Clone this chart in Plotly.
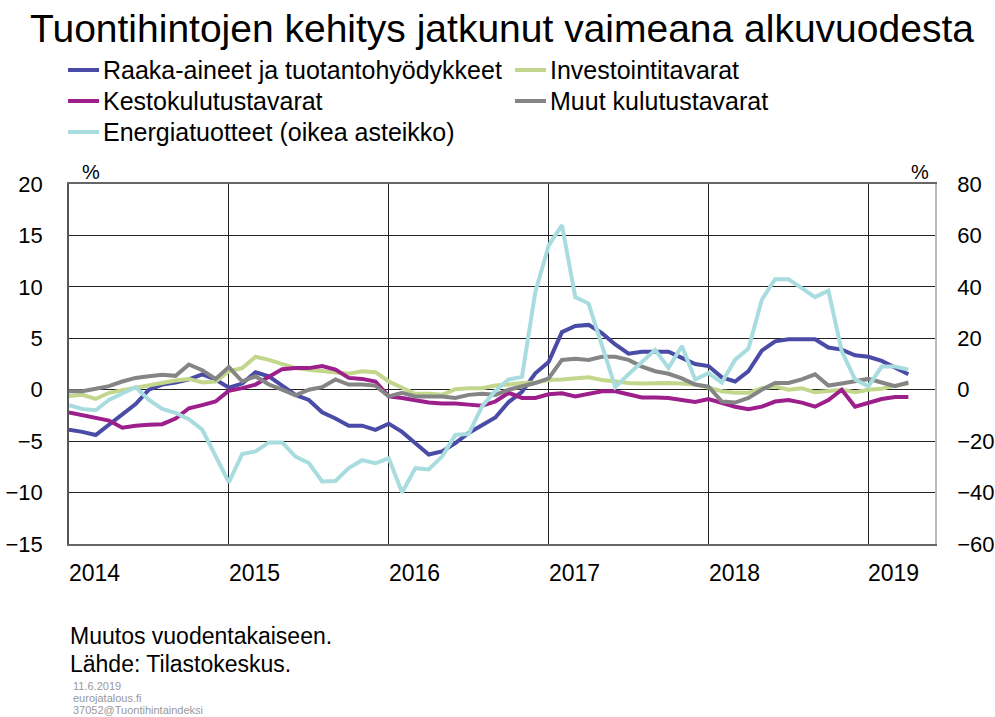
import plotly.graph_objects as go

months = list(range(64))  # Jan 2014 .. Apr 2019, month index
year_ticks = [0, 12, 24, 36, 48, 60]
year_labels = ["2014", "2015", "2016", "2017", "2018", "2019"]

raaka = [-3.9, -4.1, -4.4, -3.4, -2.3, -1.4, 0.0, 0.5, 0.7, 1.0, 1.5, 1.0,
         0.2, 0.6, 1.7, 1.3, 0.4, -0.5, -1.0, -2.2, -2.8, -3.5, -3.5, -3.9,
         -3.3, -4.1, -5.2, -6.3, -6.0, -5.2, -4.2, -3.4, -2.7, -1.2, -0.2, 1.6,
         2.7, 5.6, 6.2, 6.3, 5.5, 4.4, 3.5, 3.7, 3.7, 3.7, 3.1, 2.5,
         2.3, 1.2, 0.8, 1.8, 3.8, 4.7, 4.9, 4.9, 4.9, 4.1, 3.9, 3.35,
         3.2, 2.8, 2.2, 1.5]
investointi = [-0.6, -0.5, -0.9, -0.3, -0.05, 0.2, 0.4, 0.65, 0.9, 1.05, 0.7, 0.8,
               1.8, 2.1, 3.2, 2.9, 2.5, 2.1, 1.95, 1.8, 1.7, 1.55, 1.8, 1.7,
               0.8, 0.25, -0.4, -0.4, -0.5, 0.05, 0.15, 0.15, 0.4, 0.5, 0.65, 0.7,
               0.95, 1.0, 1.1, 1.2, 0.95, 0.8, 0.65, 0.6, 0.65, 0.65, 0.6, 0.5,
               0.2, -0.15, -0.3, -0.3, 0.15, 0.3, 0.0, 0.15, -0.25, -0.15, 0.0, -0.25,
               0.0, 0.1, 0.4, 0.6]
kesto = [-2.2, -2.45, -2.7, -3.0, -3.7, -3.5, -3.4, -3.35, -2.8, -1.8, -1.5, -1.15,
         -0.1, 0.15, 0.5, 1.2, 2.0, 2.1, 2.1, 2.3, 1.95, 1.15, 1.05, 0.8,
         -0.65, -0.8, -1.05, -1.25, -1.35, -1.35, -1.45, -1.55, -1.15, -0.3, -0.8, -0.8,
         -0.45, -0.35, -0.65, -0.4, -0.15, -0.15, -0.5, -0.75, -0.75, -0.8, -1.0, -1.2,
         -0.9, -1.3, -1.65, -1.9, -1.65, -1.15, -1.0, -1.25, -1.65, -1.0, 0.0, -1.65,
         -1.25, -0.9, -0.7, -0.7]
muut = [-0.15, -0.15, 0.1, 0.35, 0.8, 1.15, 1.3, 1.45, 1.35, 2.45, 1.9, 1.05,
        2.2, 0.8, 1.3, 0.5, 0.0, -0.55, 0.0, 0.25, 1.0, 0.5, 0.5, 0.4,
        -0.65, -0.3, -0.65, -0.65, -0.65, -0.8, -0.5, -0.4, -0.5, 0.0, 0.3, 0.65,
        1.1, 2.9, 3.0, 2.9, 3.2, 3.2, 2.9, 2.25, 1.8, 1.55, 1.1, 0.5,
        0.3, -1.15, -1.25, -0.8, 0.0, 0.65, 0.65, 1.0, 1.5, 0.4, 0.6, 0.8,
        1.05, 0.7, 0.35, 0.7]
energia = [-6, -7.5, -8, -4, -1.5, 1.0, -4, -7.5, -9, -11.5, -15.5, -26,
           -36, -25, -24, -20.5, -20.5, -26, -28.5, -35.7, -35.5, -30.5, -27.4, -28.6,
           -26.7, -40, -30.5, -31, -26, -17.6, -17.2, -6.5, -0.5, 4, 5, 38,
           56, 64, 36, 33.5, 17, 1, 6, 11, 15.5, 8.5, 17, 4,
           6.5, 2.8, 11.7, 16, 35, 43, 43, 39.5, 36, 38.5, 15, 4,
           1.3, 9, 9, 7.8]

names = ["Raaka-aineet ja tuotantohyödykkeet", "Investointitavarat",
         "Kestokulutustavarat", "Muut kulutustavarat",
         "Energiatuotteet (oikea asteikko)"]
colors = ["#4a4ba6", "#c2d68c", "#9c1f8c", "#858585", "#a9dcdf"]

fig = go.Figure()
for name, vals, col in zip(names[:4], [raaka, investointi, kesto, muut], colors[:4]):
    fig.add_trace(go.Scatter(x=months, y=vals, name=name, mode="lines",
                             line=dict(color=col, width=4), showlegend=False))
fig.add_trace(go.Scatter(x=months, y=energia, name=names[4], mode="lines",
                         line=dict(color=colors[4], width=4), yaxis="y2",
                         showlegend=False))

sans = "Liberation Sans, Arial, sans-serif"

W, H = 995, 717
PL, PR, PT, PB = 69, 935, 184, 544  # plot area in pixels


def px(xpix):
    return (xpix - PL) / (PR - PL)


def py(ypix):
    return (PB - ypix) / (PB - PT)


fig.update_layout(
    width=W, height=H,
    margin=dict(l=PL, r=W - PR, t=PT, b=H - PB, autoexpand=False),
    paper_bgcolor="white", plot_bgcolor="white",
    title=dict(text="Tuontihintojen kehitys jatkunut vaimeana alkuvuodesta",
               font=dict(family=sans, size=39, color="black"),
               x=0.5, xanchor="center", xref="paper",
               y=1 - 28 / H, yanchor="middle", yref="container"),
    showlegend=False,
    xaxis=dict(range=[0, 65], tickvals=year_ticks, showticklabels=False,
               showgrid=True, gridcolor="#222", gridwidth=1, zeroline=False,
               showline=True, linecolor="#666", linewidth=1.5, mirror=True,
               ticks=""),
    yaxis=dict(range=[-15, 20], dtick=5, tick0=0, showgrid=True, gridcolor="#222",
               gridwidth=1, zeroline=False, showline=True, linecolor="#555",
               linewidth=1.5, ticks="", ticklabelstandoff=20,
               tickfont=dict(family=sans, size=22, color="black")),
    yaxis2=dict(range=[-60, 80], dtick=20, tick0=0, overlaying="y", side="right",
                showgrid=False, zeroline=False, showline=True, linecolor="#bbb",
                linewidth=1.5, ticks="", ticklabelstandoff=16,
                tickfont=dict(family=sans, size=22, color="black")),
)

# legend (two columns, three rows)
leg_pos = [(68, 70), (515, 70), (68, 101), (515, 101), (68, 132)]
for (lx, ly), name, col in zip(leg_pos, names, colors):
    fig.add_shape(type="line", xref="paper", yref="paper",
                  x0=px(lx), x1=px(lx + 31), y0=py(ly), y1=py(ly),
                  line=dict(color=col, width=4))
    fig.add_annotation(x=px(lx + 33), y=py(ly), xref="paper", yref="paper",
                       text=name, showarrow=False, xanchor="left", yanchor="middle",
                       font=dict(family=sans, size=25, color="black"))

for xv, lab in zip(year_ticks, year_labels):
    fig.add_annotation(x=xv, y=-15, xref="x", yref="y", text=lab, showarrow=False,
                       xanchor="left", yanchor="middle", yshift=-29, xshift=-2,
                       font=dict(family=sans, size=23, color="black"))

fig.add_annotation(x=px(80), y=py(172), xref="paper", yref="paper", text="%",
                   showarrow=False, xanchor="left", yanchor="middle",
                   font=dict(family=sans, size=20, color="black"))
fig.add_annotation(x=px(931), y=py(172), xref="paper", yref="paper", text="%",
                   showarrow=False, xanchor="right", yanchor="middle",
                   font=dict(family=sans, size=20, color="black"))

fig.add_annotation(x=px(68), y=py(636), xref="paper", yref="paper",
                   text="Muutos vuodentakaiseen.", showarrow=False,
                   xanchor="left", yanchor="middle",
                   font=dict(family=sans, size=23, color="black"))
fig.add_annotation(x=px(68), y=py(664), xref="paper", yref="paper",
                   text="Lähde: Tilastokeskus.", showarrow=False,
                   xanchor="left", yanchor="middle",
                   font=dict(family=sans, size=23, color="black"))
for yy, txt in [(686, "11.6.2019"), (698, "eurojatalous.fi"), (710, "37052@Tuontihintaindeksi")]:
    fig.add_annotation(x=px(71), y=py(yy), xref="paper", yref="paper",
                       text=txt, showarrow=False, xanchor="left", yanchor="middle",
                       font=dict(family=sans, size=11, color="#999"))

fig.write_html("out.html",
               config={"displayModeBar": False},
               post_script="document.body.style.margin='0px';"
                           "document.body.style.overflow='hidden';")
